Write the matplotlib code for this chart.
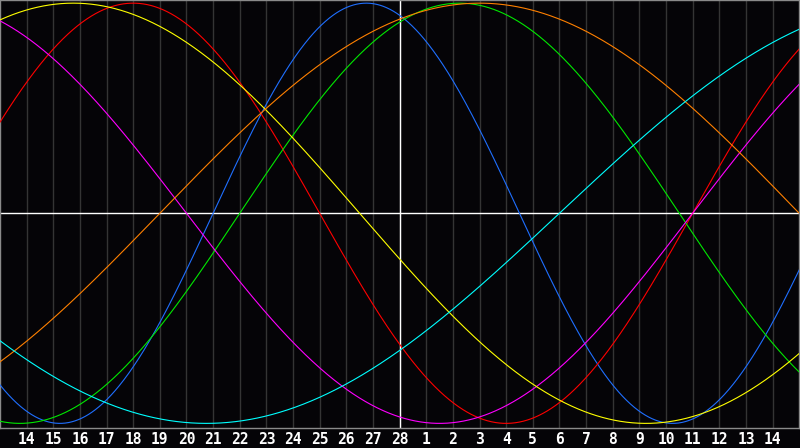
import numpy as np
import matplotlib.pyplot as plt

bg = '#050407'
c_frame = '#8a8a8a'
c_grid = '#343434'

# cycle lengths (days) and day-in-cycle on the centre day (the 28th)
periods = [23, 28, 33, 38, 43, 48, 53]
day_in_cycle = [7, 17, 6, 27, 23, 9, 47]
colors = ['#1f6fff', '#ff0000', '#00e800', '#ff00ff', '#ffff00', '#ff8000', '#00ffff']

# day labels under the grid lines, centre day = 28
day_labels = ['14', '15', '16', '17', '18', '19', '20', '21', '22', '23', '24', '25', '26', '27',
              '28', '1', '2', '3', '4', '5', '6', '7', '8', '9', '10', '11', '12', '13', '14']
day_offsets = list(range(-14, 15))

fig = plt.figure(figsize=(8, 4.48), dpi=100, facecolor=bg)
ax = fig.add_axes([0, 1 - 428 / 448, 0.999, 428 / 448])
ax.set_facecolor(bg)

t = np.linspace(-15, 15, 1200)
for p, d0, c in zip(periods, day_in_cycle, colors):
    ax.plot(t, np.sin(2 * np.pi * (t + d0) / p), color=c, lw=0.8, zorder=3)

for off in day_offsets:
    ax.axvline(off, color=c_grid, lw=1, zorder=1)
ax.axvline(0, color='white', lw=1, zorder=2)
ax.axhline(0, color='white', lw=1, zorder=2)

ax.set_xlim(-15, 15)
ax.set_ylim(-1.022, 1.015)
ax.set_yticks([])
ax.set_xticks(day_offsets)
ax.set_xticklabels(day_labels, color='white', fontsize=10.5,
                   fontweight='bold', family='DejaVu Sans Mono')
ax.tick_params(axis='x', length=0, pad=3)
for s in ax.spines.values():
    s.set_color(c_frame)
    s.set_linewidth(1)

fig.savefig('out.png', dpi=100, facecolor=bg)
plt.close()
